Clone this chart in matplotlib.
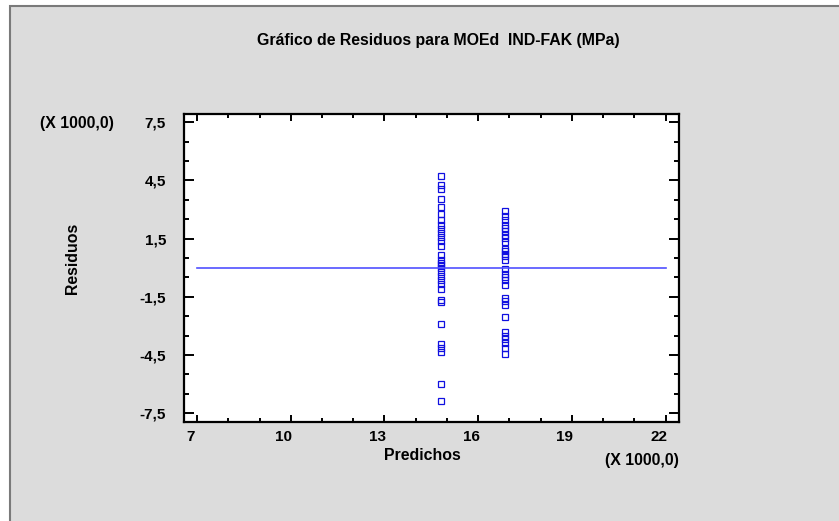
import numpy as np
import matplotlib
matplotlib.use("Agg")
import matplotlib.pyplot as plt
from matplotlib.patches import Rectangle
from matplotlib import transforms

# predicted values (x 1000) and residuals (x 1000)
pred_a = 14.8
resid_a = [4.72, 4.26, 4.03, 3.52, 3.12, 2.78, 2.48, 2.22, 1.97, 1.79, 1.57,
           1.36, 1.14, 0.67, 0.41, 0.24, 0.16, -0.02, -0.22, -0.45, -0.62,
           -0.84, -1.09, -1.66, -1.78, -2.90, -3.93, -4.12, -4.33, -5.97, -6.87]
pred_b = 16.85
resid_b = [2.91, 2.69, 2.48, 2.22, 2.05, 1.88, 1.66, 1.54, 1.31, 0.97, 0.84,
           0.72, 0.59, 0.38, -0.07, -0.31, -0.48, -0.62, -0.88, -1.57, -1.74,
           -1.91, -2.55, -3.29, -3.52, -3.69, -3.90, -4.15, -4.45]

xticks = [7, 10, 13, 16, 19, 22]
yticks = [-7.5, -4.5, -1.5, 1.5, 4.5, 7.5]

plt.rcParams['font.family'] = ['Liberation Sans', 'DejaVu Sans']
plt.rcParams['font.weight'] = 'bold'

W, H = 839, 521
fig = plt.figure(figsize=(W / 100, H / 100), dpi=100)
fig.patch.set_facecolor('white')

# gray panel with border
bg = Rectangle((10 / W, -0.05), 1.1, 1 - 6 / H + 0.05, transform=fig.transFigure,
               facecolor='#dcdcdc', edgecolor='#7a7a7a', linewidth=1.5, zorder=-5)
fig.patches.append(bg)

ax = fig.add_axes([184 / W, 1 - 422 / H, (679 - 184) / W, (422 - 114) / H])
ax.set_zorder(2)
ax.set_facecolor('white')

x_a = np.full(len(resid_a), pred_a)
x_b = np.full(len(resid_b), pred_b)
ax.plot(x_a, resid_a, 's', ms=4.3, mfc='none', mec='#1010e0', mew=0.9)
ax.plot(x_b, resid_b, 's', ms=4.3, mfc='none', mec='#1010e0', mew=0.9)
ax.plot([xticks[0], xticks[-1]], [0, 0], color='#5050ff', lw=1.2)

ax.set_xlim(6.58, 22.43)
ax.set_ylim(-7.95, 7.92)
ax.set_xticks(xticks)
ax.set_yticks(yticks)
ax.set_xticks(np.arange(7, 23, 1), minor=True)
ax.set_yticks(np.arange(-7.5, 8, 1), minor=True)
ax.set_xticklabels([str(v) for v in xticks])
ax.set_yticklabels([str(v).replace('.', ',') for v in yticks])

for s in ax.spines.values():
    s.set_linewidth(1.6)
ax.tick_params(which='both', direction='in', top=True, right=True,
               labelsize=11, width=1.4)
ax.tick_params(axis='y', which='major', length=7.5, pad=13)
ax.tick_params(axis='y', which='minor', length=3.5)
ax.tick_params(axis='x', which='major', length=5, pad=6)
ax.tick_params(axis='x', which='minor', length=3)

# x tick labels sit a bit left of their ticks
shift = transforms.ScaledTranslation(-5 / 72, 0, fig.dpi_scale_trans)
for lab in ax.get_xticklabels():
    lab.set_transform(lab.get_transform() + shift)

fig.text(438 / W, 1 - 40 / H, 'Gráfico de Residuos para MOEd  IND-FAK (MPa)',
         ha='center', va='center', fontsize=11.4, fontweight='bold')
fig.text(422 / W, 1 - 456 / H, 'Predichos', ha='center', va='center',
         fontsize=11.4, fontweight='bold')
fig.text(679 / W, 1 - 461 / H, '(X 1000,0)', ha='right', va='center',
         fontsize=11.4, fontweight='bold')
fig.text(40 / W, 1 - 124 / H, '(X 1000,0)', ha='left', va='center',
         fontsize=11.4, fontweight='bold')
fig.text(72 / W, 1 - 258 / H, 'Residuos', ha='center', va='center',
         rotation=90, fontsize=11.4, fontweight='bold')

fig.savefig('out.png', dpi=100)
